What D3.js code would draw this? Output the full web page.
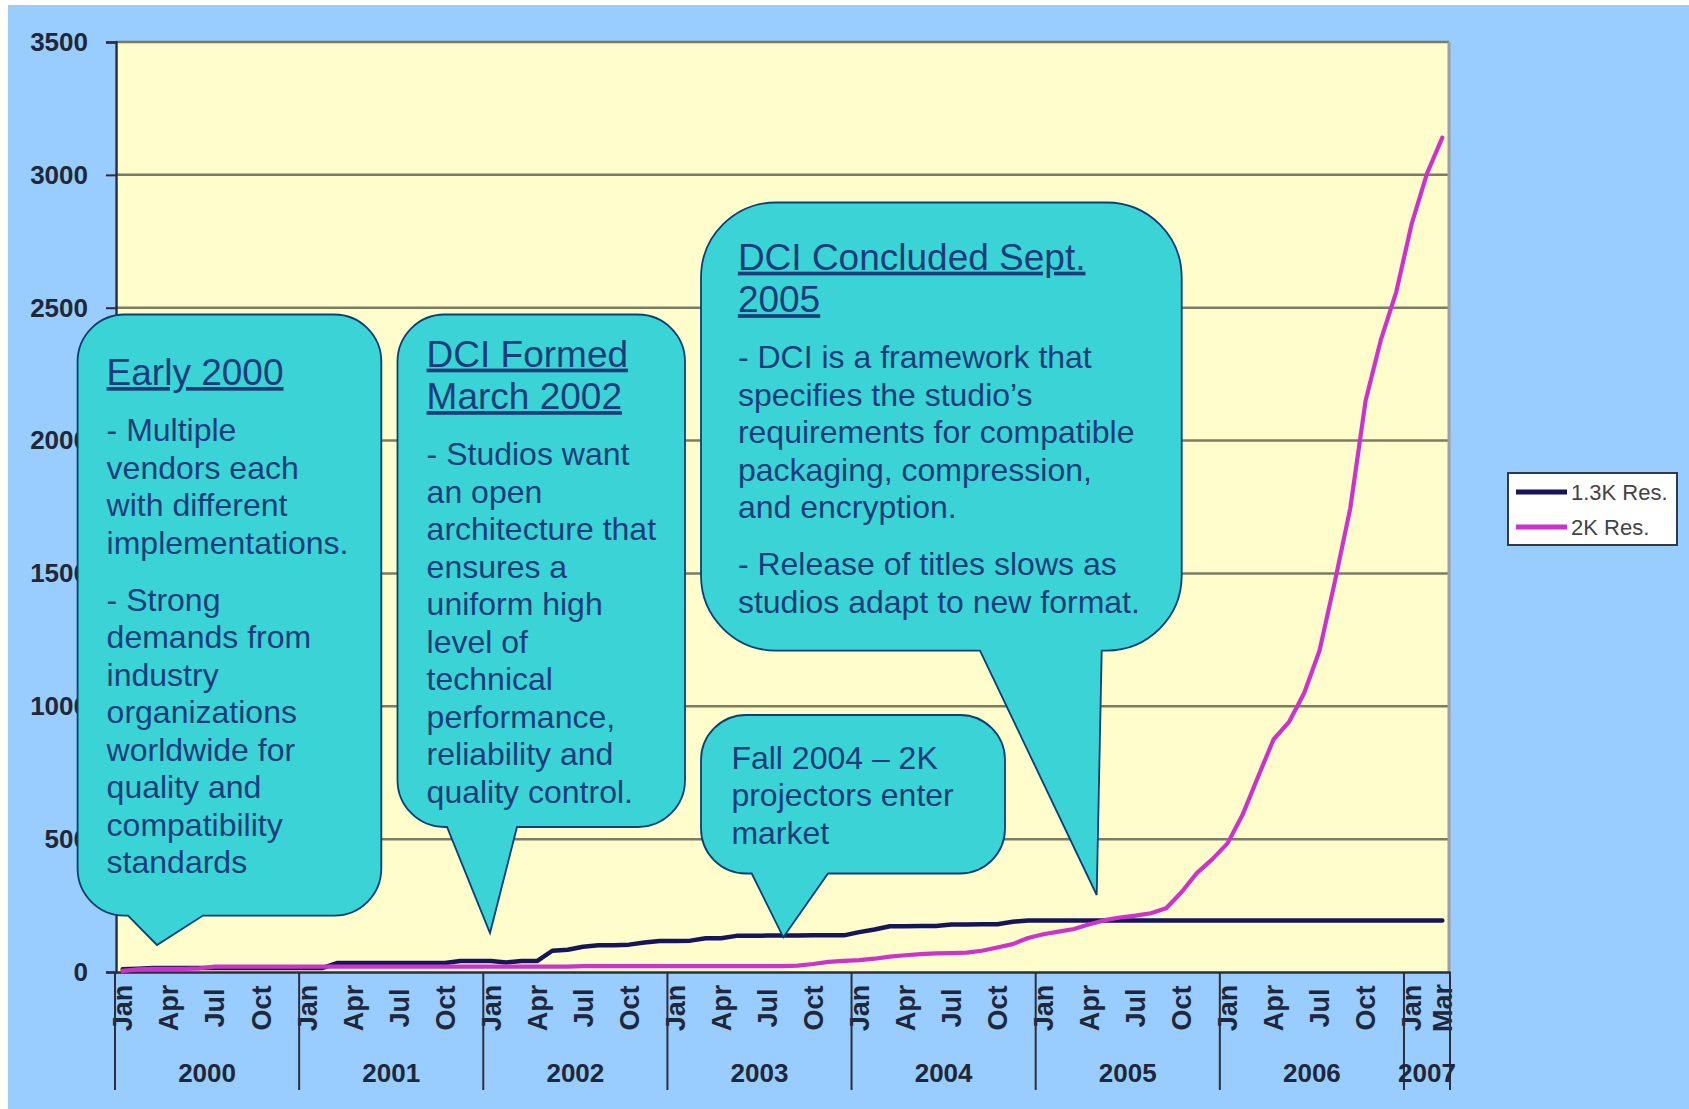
<!DOCTYPE html>
<html><head><meta charset="utf-8">
<script src="https://cdn.jsdelivr.net/npm/d3@7/dist/d3.min.js"></script>
<style>body{margin:0;background:#fff;overflow:hidden}</style>
</head><body>
<svg id="chart" width="1689" height="1109"></svg>
<script>
// ---------------- DATA ----------------
const categories = [
"2000-01","2000-02","2000-03","2000-04","2000-05","2000-06","2000-07","2000-08","2000-09","2000-10","2000-11","2000-12",
"2001-01","2001-02","2001-03","2001-04","2001-05","2001-06","2001-07","2001-08","2001-09","2001-10","2001-11","2001-12",
"2002-01","2002-02","2002-03","2002-04","2002-05","2002-06","2002-07","2002-08","2002-09","2002-10","2002-11","2002-12",
"2003-01","2003-02","2003-03","2003-04","2003-05","2003-06","2003-07","2003-08","2003-09","2003-10","2003-11","2003-12",
"2004-01","2004-02","2004-03","2004-04","2004-05","2004-06","2004-07","2004-08","2004-09","2004-10","2004-11","2004-12",
"2005-01","2005-02","2005-03","2005-04","2005-05","2005-06","2005-07","2005-08","2005-09","2005-10","2005-11","2005-12",
"2006-01","2006-02","2006-03","2006-04","2006-05","2006-06","2006-07","2006-08","2006-09","2006-10","2006-11","2006-12",
"2007-01","2007-02","2007-03"];

const monthNames = ["Jan","Feb","Mar","Apr","May","Jun","Jul","Aug","Sep","Oct","Nov","Dec"];
const monthTicks = [
"2000-01","2000-04","2000-07","2000-10","2001-01","2001-04","2001-07","2001-10",
"2002-01","2002-04","2002-07","2002-10","2003-01","2003-04","2003-07","2003-10",
"2004-01","2004-04","2004-07","2004-10","2005-01","2005-04","2005-07","2005-10",
"2006-01","2006-04","2006-07","2006-10","2007-01","2007-03"];
const years = ["2000","2001","2002","2003","2004","2005","2006","2007"];
const yTicks = [0,500,1000,1500,2000,2500,3000,3500];

const seriesNames = ["1.3K Res.","2K Res."];

const res13K = [
10,12,15,15,15,15,15,15,15,15,15,15,
15,15,34,34,34,34,34,34,34,34,41,41,
41,36,41,41,80,84,95,101,101,103,111,117,
117,118,127,127,136,136,137,137,137,138,138,138,
150,160,172,172,173,173,179,179,180,180,189,194,
194,194,194,194,194,194,194,194,194,194,194,194,
194,194,194,194,194,194,194,194,194,194,194,194,
194,194,194];

const res2K = [
4,10,12,12,12,14,20,20,20,20,20,20,
20,20,20,20,20,20,20,20,20,20,20,20,
20,20,20,20,20,20,22,22,22,22,22,22,
22,22,22,22,22,22,22,22,24,30,38,42,
45,50,58,63,67,70,71,73,80,92,105,128,
142,152,162,180,195,205,212,221,240,300,372,424,
484,594,736,875,940,1050,1210,1470,1745,2150,2380,2560,
2815,3005,3140];

// Callout texts
const calloutTitles = [
  ["Early 2000"],
  ["DCI Formed","March 2002"],
  ["DCI Concluded Sept.","2005"],
  []
];
const calloutBodies = [
  [["- Multiple","vendors each","with different","implementations."],
   ["- Strong","demands from","industry","organizations","worldwide for","quality and","compatibility","standards"]],
  [["- Studios want","an open","architecture that","ensures a","uniform high","level of","technical","performance,","reliability and","quality control."]],
  [["- DCI is a framework that","specifies the studio’s","requirements for compatible","packaging, compression,","and encryption."],
   ["- Release of titles slows as","studios adapt to new format."]],
  [["Fall 2004 – 2K","projectors enter","market"]]
];

// ---------------- LAYOUT ----------------
const W = 1689, H = 1109;
const plot = {left:115, right:1450, top:42, bottom:972};
const svg = d3.select("#chart");
const axisFont = "'Liberation Sans', Arial, sans-serif";

// backgrounds
svg.append("rect").attr("x",0).attr("y",0).attr("width",W).attr("height",H).attr("fill","#ffffff");
svg.append("rect").attr("x",8).attr("y",5).attr("width",W-8).attr("height",H-5).attr("fill","#99CCFF");
svg.append("rect").attr("x",plot.left).attr("y",plot.top)
   .attr("width",plot.right-plot.left).attr("height",plot.bottom-plot.top).attr("fill","#FFFDCC");

const x = d3.scaleBand().domain(categories).range([plot.left, plot.right]).padding(0);
const y = d3.scaleLinear().domain([0,3500]).range([plot.bottom, plot.top]);
const cx = c => x(c) + x.bandwidth()/2;

// gridlines
svg.append("g").selectAll("line").data(yTicks.filter(d=>d>0)).join("line")
  .attr("x1",plot.left).attr("x2",plot.right-1)
  .attr("y1",d=>y(d)).attr("y2",d=>y(d))
  .attr("stroke","#7b7b66").attr("stroke-width",2.5);

// right border
svg.append("line").attr("x1",plot.right-1).attr("x2",plot.right-1)
  .attr("y1",plot.top).attr("y2",plot.bottom).attr("stroke","#9aa0a6").attr("stroke-width",3);

// Y axis
const yAxis = svg.append("g").attr("transform",`translate(${plot.left+1},0)`)
  .call(d3.axisLeft(y).tickValues(yTicks).tickSize(10).tickPadding(18).tickFormat(d3.format("d")));
yAxis.select(".domain").attr("stroke","#2a2f3a").attr("stroke-width",2.5);
yAxis.selectAll(".tick line").attr("stroke","#2a2f3a").attr("stroke-width",2);
yAxis.selectAll("text").attr("font-family",axisFont)
  .attr("font-weight","bold").attr("font-size",26).attr("fill","#1e2838");

// X axis (month labels)
const xAxis = svg.append("g").attr("transform",`translate(0,${plot.bottom})`)
  .call(d3.axisBottom(x).tickValues(monthTicks).tickSize(0)
        .tickFormat(d => monthNames[+d.slice(5)-1]));
xAxis.select(".domain").attr("stroke","#2a2f3a").attr("stroke-width",2.5);
xAxis.selectAll("text")
  .attr("x",0).attr("y",0).attr("dy","0.36em")
  .attr("transform","translate(0,36) rotate(-90)")
  .attr("text-anchor","middle")
  .attr("font-family",axisFont)
  .attr("font-weight","bold").attr("font-size",27).attr("fill","#1e2838");

// year dividers
const yearStarts = years.map(yr => yr + "-01");
const dividerX = yearStarts.map(c => x(c)).concat([plot.right]);
svg.append("g").selectAll("line").data(dividerX).join("line")
  .attr("x1",d=>d).attr("x2",d=>d).attr("y1",plot.bottom).attr("y2",1090)
  .attr("stroke","#2a2f3a").attr("stroke-width",2);

// year labels
svg.append("g").selectAll("text").data(years).join("text")
  .attr("x",(d,i)=> (dividerX[i] + dividerX[i+1])/2)
  .attr("y",1073).attr("dy","0.36em").attr("text-anchor","middle")
  .attr("font-family",axisFont)
  .attr("font-weight","bold").attr("font-size",26).attr("fill","#1e2838")
  .text(d=>d);

// lines
const line = d3.line().x((d,i)=>cx(categories[i])).y(d=>y(d));
svg.append("path").datum(res13K).attr("d",line).attr("fill","none")
  .attr("stroke","#16155c").attr("stroke-width",4.5).attr("stroke-linejoin","round").attr("stroke-linecap","round");
svg.append("path").datum(res2K).attr("d",line).attr("fill","none")
  .attr("stroke","#cc33cc").attr("stroke-width",4.2).attr("stroke-linejoin","round").attr("stroke-linecap","round");

// legend
const lg = svg.append("g");
lg.append("rect").attr("x",1508).attr("y",473).attr("width",169).attr("height",72)
  .attr("fill","#ffffff").attr("stroke","#333a44").attr("stroke-width",2);
const legColors = ["#16155c","#cc33cc"];
seriesNames.forEach((n,i)=>{
  const ly = 492 + i*35;
  lg.append("line").attr("x1",1516).attr("x2",1567).attr("y1",ly).attr("y2",ly)
    .attr("stroke",legColors[i]).attr("stroke-width",5);
  lg.append("text").attr("x",1571).attr("y",ly).attr("dy","0.36em")
    .attr("font-family",axisFont).attr("font-size",22)
    .attr("fill","#444444").text(n);
});

// ---------------- CALLOUTS ----------------
const callouts = [
  {box:[77.6,314.5,381.3,915.6], r:47, tail:[[128,915.6],[157,945],[203,915.6]], tx:106.6, ty:385},
  {box:[397.5,314.5,685,827], r:47, tail:[[447,827],[490,933],[517,827]], tx:426.6, ty:366.6},
  {box:[701,202.5,1181.7,650.6], r:75, tail:[[980,650.6],[1096.7,895],[1101.7,650.6]], tx:737.9, ty:269.7},
  {box:[701,715,1005,873.5], r:45, tail:[[751.7,873.5],[783.3,937.3],[828,873.5]], tx:731.4, ty:768.8}
];

function calloutPath(c){
  const [x0,y0,x1,y1] = c.box, r = c.r, t = c.tail;
  return `M${x0+r},${y0} L${x1-r},${y0} A${r},${r} 0 0 1 ${x1},${y0+r} L${x1},${y1-r} ` +
    `A${r},${r} 0 0 1 ${Math.max(x1-r,t[2][0])},${y1} L${t[2][0]},${t[2][1]} L${t[1][0]},${t[1][1]} L${t[0][0]},${t[0][1]} ` +
    `L${x0+r},${y1} A${r},${r} 0 0 1 ${x0},${y1-r} L${x0},${y0+r} A${r},${r} 0 0 1 ${x0+r},${y0} Z`;
}

const cg = svg.append("g");
callouts.forEach((c,k)=>{
  cg.append("path").attr("d",calloutPath(c)).attr("fill","#3BD4D6")
    .attr("stroke","#0d3f72").attr("stroke-width",1.8).attr("stroke-linejoin","miter");
  let yy = c.ty;
  const titles = calloutTitles[k];
  titles.forEach((t,j)=>{
    cg.append("text").attr("x",c.tx).attr("y",yy)
      .attr("font-family","'Liberation Sans', Arial, sans-serif").attr("font-size",37)
      .attr("fill","#1d3d7a").style("text-decoration","underline").text(t);
    if (j < titles.length-1) yy += 42.5;
  });
  if (titles.length) yy += 56;
  calloutBodies[k].forEach((para,p)=>{
    if (p>0) yy += 19.5;
    para.forEach((t,j)=>{
      cg.append("text").attr("x",c.tx).attr("y",yy)
        .attr("font-family","'Liberation Sans', Arial, sans-serif").attr("font-size",32)
        .attr("fill","#1d3d7a").text(t);
      yy += 37.5;
    });
  });
});
</script>
</body></html>
